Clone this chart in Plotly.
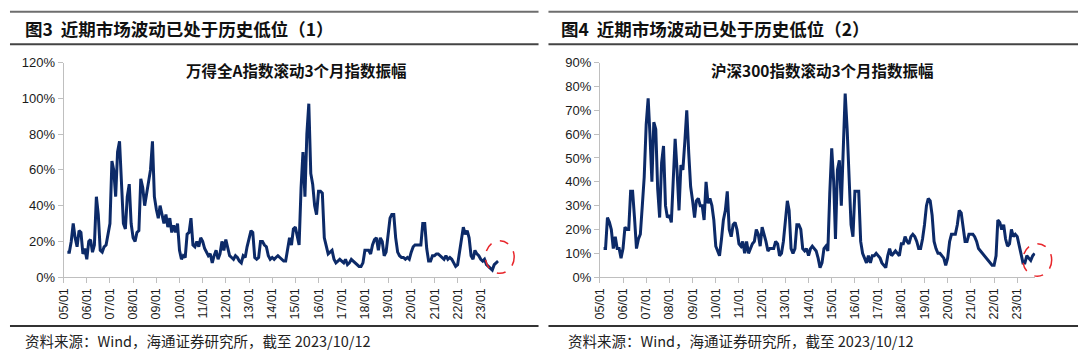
import pandas as pd
import plotly.graph_objects as go

# ---------------- data (monthly readings, % amplitude) ----------------
start_month = "2005-03-01"
end_date = "2023-10-12"

# 万得全A指数滚动3个月指数振幅 (2005-03 .. 2023-10)
wind_a = [
    14, 14, 20, 30, 22, 17, 26, 25, 13, 16,                 # 2005
    10, 20, 21, 14, 18, 45, 35, 15, 14, 17, 18, 25,         # 2006
    30, 65, 60, 45, 70, 76, 55, 30, 27, 45, 52, 30,         # 2007
    22, 20, 25, 26, 55, 50, 40, 47, 55, 60, 76, 45,         # 2008
    38, 33, 40, 35, 30, 35, 28, 33, 25, 29, 25, 30,         # 2009
    15, 10, 12, 11, 24, 25, 33, 18, 17, 20, 17, 22,         # 2010
    20, 16, 14, 12, 13, 8, 12, 15, 10, 13, 20, 15,          # 2011
    21, 17, 12, 11, 10, 12, 11, 9, 8, 12, 11, 17,           # 2012
    22, 26, 25, 11, 10, 11, 20, 20, 18, 17, 12, 10,         # 2013
    11, 10, 11, 12, 11, 10, 9, 9, 16, 22, 18, 27,           # 2014
    28, 22, 18, 50, 70, 45, 80, 97, 58, 52, 40, 35,         # 2015
    48, 48, 47, 22, 18, 13, 14, 15, 10, 8, 9, 10,           # 2016
    9, 8, 10, 7, 8, 10, 9, 8, 7, 6, 6, 8,                   # 2017
    15, 15, 15, 13, 18, 21, 22, 15, 22, 20, 12, 14,         # 2018
    25, 33, 35, 35, 22, 14, 12, 11, 11, 10, 11, 10,         # 2019
    14, 17, 18, 18, 18, 18, 30, 30, 16, 9, 9, 12,           # 2020
    12, 13, 13, 12, 11, 10, 12, 10, 11, 10, 8, 6,           # 2021
    7, 15, 22, 28, 24, 26, 22, 12, 10, 15, 13, 12,          # 2022
    10, 9, 10, 7, 6, 5, 4, 7, 8, 9,                         # 2023
]

# 沪深300指数滚动3个月指数振幅 (2005-03 .. 2023-10)
csi300 = [
    12, 12, 25, 23, 20, 12, 17, 12, 12, 8,                  # 2005
    12, 21, 20, 20, 36, 36, 25, 12, 16, 18, 30, 42,         # 2006
    64, 75, 60, 40, 65, 62, 37, 25, 48, 55, 30, 25,         # 2007
    26, 23, 40, 58, 45, 28, 47, 45, 57, 70, 52, 38,         # 2008
    32, 25, 32, 33, 30, 30, 24, 40, 31, 33, 30, 24,         # 2009
    13, 11, 9, 16, 24, 28, 36, 20, 17, 22, 23, 20,          # 2010
    14, 13, 15, 10, 15, 10, 12, 14, 15, 20, 18, 13,         # 2011
    21, 18, 15, 11, 12, 12, 12, 15, 14, 9, 10, 15,          # 2012
    25, 32, 28, 12, 10, 12, 22, 22, 20, 12, 11, 12,         # 2013
    9, 12, 13, 12, 11, 8, 4, 6, 12, 13, 11, 35,             # 2014
    54, 40, 16, 45, 49, 30, 50, 77, 62, 42, 22, 17,         # 2015
    36, 36, 36, 15, 10, 8, 6, 9, 6, 9, 9, 10,               # 2016
    9, 8, 6, 5, 4, 9, 12, 9, 10, 11, 10, 9,                 # 2017
    14, 14, 17, 15, 14, 17, 18, 17, 15, 12, 12, 16,         # 2018
    22, 30, 33, 32, 26, 15, 12, 10, 10, 9, 8, 5,            # 2019
    8, 15, 18, 18, 18, 22, 28, 27, 20, 15, 15, 18,          # 2020
    18, 18, 17, 15, 12, 11, 10, 9, 8, 7, 6, 5,              # 2021
    5, 9, 24, 23, 20, 22, 16, 13, 14, 20, 17, 18,           # 2022
    17, 13, 10, 6, 6, 9, 8, 7, 9, 10,                       # 2023
]

tick_years = list(range(2005, 2024))
tick_labels = [f"{y % 100:02d}/01" for y in tick_years]

panel_titles = ["图3  近期市场波动已处于历史低位（1）", "图4  近期市场波动已处于历史低位（2）"]
chart_titles = ["万得全A指数滚动3个月指数振幅", "沪深300指数滚动3个月指数振幅"]
source_text = "资料来源：Wind，海通证券研究所，截至 2023/10/12"

y_max = [120, 90]
y_step = [20, 10]

# ---------------- figure ----------------
W, H = 1080, 358
NAVY = "#0c2a68"
AXIS = "#bfbfbf"
CJK = "Noto Sans CJK SC"
LAT = "Liberation Sans, Arial, sans-serif"

dates_a = pd.date_range(start_month, periods=len(wind_a), freq="MS")
dates_b = pd.date_range(start_month, periods=len(csi300), freq="MS")
tickvals = [f"{y}-01-01" for y in tick_years]


def px(x):
    return x / W


def py(y):
    return 1 - y / H


fig = go.Figure()
fig.add_trace(go.Scatter(x=dates_a, y=wind_a, mode="lines", xaxis="x", yaxis="y",
                         line=dict(color=NAVY, width=3), hoverinfo="skip"))
fig.add_trace(go.Scatter(x=dates_b, y=csi300, mode="lines", xaxis="x2", yaxis="y2",
                         line=dict(color=NAVY, width=3), hoverinfo="skip"))

plot_left = [57, 596.7]
plot_right = [495, 1035]
plot_top, plot_bottom = 58, 282

common_x = dict(type="date", tickmode="array",
                tickvals=tickvals, ticktext=tick_labels, tickangle=-90, ticks="outside",
                ticklen=5, tickcolor=AXIS, showline=True, linecolor=AXIS, linewidth=1,
                showgrid=False, zeroline=False,
                tickfont=dict(family=LAT, size=12.5, color="#1a1a1a"))
common_y = dict(ticks="outside", ticklen=5, tickcolor=AXIS, showline=True, linecolor=AXIS,
                linewidth=1, showgrid=False, zeroline=False, ticksuffix="%",
                tickfont=dict(family=LAT, size=13, color="#1a1a1a"))

layout = dict(width=W, height=H, margin=dict(l=0, r=0, t=0, b=0), autosize=False,
              paper_bgcolor="white", plot_bgcolor="white", showlegend=False)
for i in range(2):
    sx = "" if i == 0 else "2"
    layout["xaxis" + sx] = dict(common_x, domain=[px(plot_left[i]), px(plot_right[i])],
                                anchor="y" + sx, range=["2005-01-01", end_date])
    layout["yaxis" + sx] = dict(common_y, domain=[py(plot_bottom), py(plot_top)],
                                anchor="x" + sx, range=[0, y_max[i]], dtick=y_step[i])
fig.update_layout(**layout)

shapes = []
annotations = []
panel_x0 = [3, 545]
panel_x1 = [535, 1078]
title_x = [16, 556]
source_x = [16, 563]
chart_title_cx = [291, 821]
circle_cx = [496, 1037]
circle_cy = [261, 264]
for i in range(2):
    for yy, col in [(5, "#6e6e6e"), (39, "#444444"), (333, "#333333")]:
        shapes.append(dict(type="line", xref="paper", yref="paper",
                           x0=px(panel_x0[i]), x1=px(panel_x1[i]), y0=py(yy), y1=py(yy),
                           line=dict(color=col, width=2)))
    shapes.append(dict(type="circle", xref="paper", yref="paper",
                       x0=px(circle_cx[i] - 14.5), x1=px(circle_cx[i] + 14.5),
                       y0=py(circle_cy[i] + 17), y1=py(circle_cy[i] - 17),
                       line=dict(color="#e8262b", width=1.5, dash="dash")))
    annotations.append(dict(text="<b>" + panel_titles[i] + "</b>", xref="paper", yref="paper",
                            x=px(title_x[i]), y=py(22), xanchor="left", yanchor="middle",
                            showarrow=False, font=dict(family=CJK, size=17.5, color="#111111")))
    annotations.append(dict(text="<b>" + chart_titles[i] + "</b>", xref="paper", yref="paper",
                            x=px(chart_title_cx[i]), y=py(66), xanchor="center", yanchor="middle",
                            showarrow=False, font=dict(family=CJK, size=15.5, color="#111111")))
    annotations.append(dict(text=source_text, xref="paper", yref="paper",
                            x=px(source_x[i]), y=py(348), xanchor="left", yanchor="middle",
                            showarrow=False, font=dict(family=CJK, size=14.5, color="#222222")))
fig.update_layout(shapes=shapes, annotations=annotations)

fig.write_html("out.html", config={"responsive": False, "displayModeBar": False},
               post_script="document.body.style.margin='0';document.body.style.overflow='hidden';")
